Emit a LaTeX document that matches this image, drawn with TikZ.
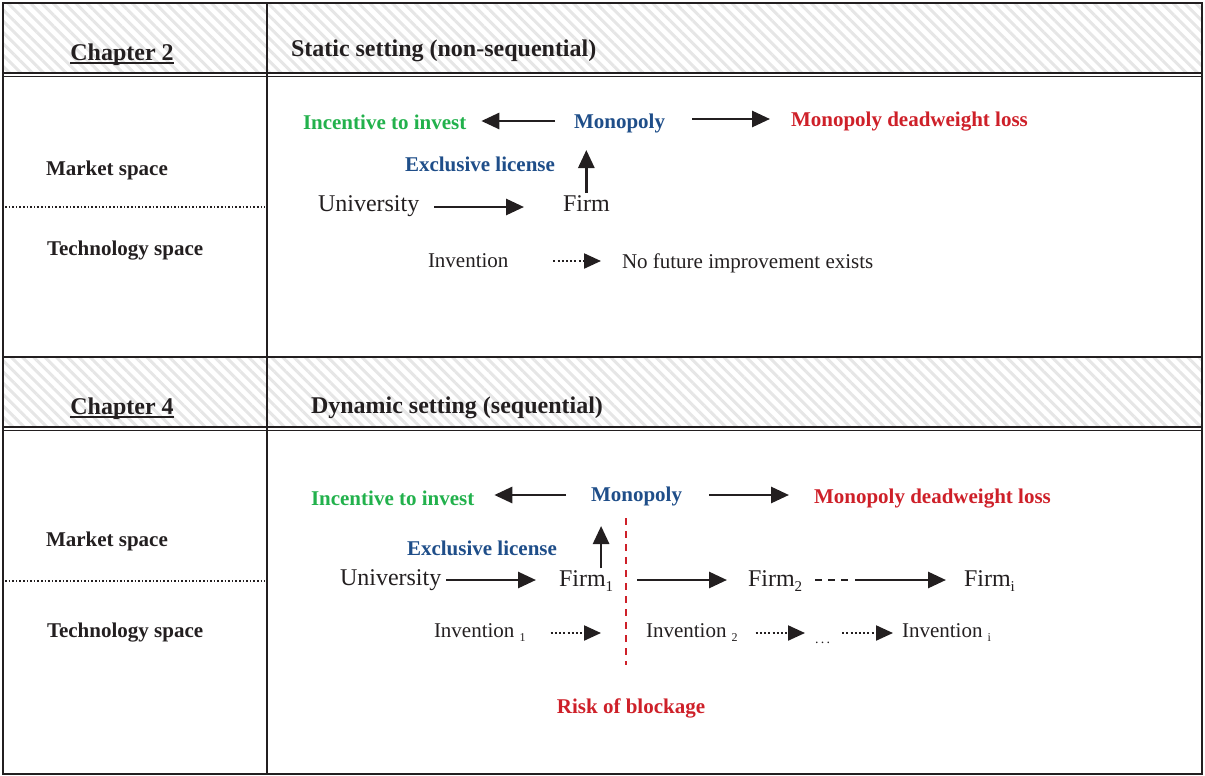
\documentclass[tikz,border=0pt]{standalone}
\usepackage{fontspec}
\setmainfont{Liberation Serif}
\usetikzlibrary{arrows.meta,patterns.meta}
\definecolor{ink}{HTML}{231F20}
\definecolor{cgreen}{HTML}{22B14C}
\definecolor{cblue}{HTML}{1F4E89}
\definecolor{cred}{HTML}{CE2029}
\definecolor{hatchc}{HTML}{E6E6E6}
\newcommand\fsub[1]{\raisebox{-5pt}{\fontsize{15}{15}\selectfont #1}}
\newcommand\isub[1]{\raisebox{-4pt}{\fontsize{12}{12}\selectfont #1}}
\begin{document}
\begin{tikzpicture}[x=1pt,y=-1pt,
 every node/.style={inner sep=0pt, outer sep=0pt, text=ink},
 big/.style={font=\fontsize{24}{28}\selectfont, text height=16pt, text depth=0pt},
 bigb/.style={font=\fontsize{24}{28}\selectfont\bfseries, text height=16pt, text depth=0pt},
 lab/.style={font=\fontsize{21}{25}\selectfont, text height=14pt, text depth=0pt},
 labb/.style={font=\fontsize{21}{25}\selectfont\bfseries, text height=14pt, text depth=0pt},
 frame/.style={draw=ink, line width=2pt},
 thin/.style={draw=ink, line width=1.3pt},
 hatch/.style={pattern={Lines[angle=-45,distance=8pt,line width=3pt]}, pattern color=hatchc},
 sepline/.style={draw=ink, line width=1.2pt, dash pattern=on 1.6pt off 2pt},
 arr/.style={draw=ink, line width=2.8pt, -{Triangle[length=18pt,width=16pt]}},
 darr/.style={draw=ink, line width=2.2pt, dash pattern=on 2pt off 2.2pt, -{Triangle[length=17pt,width=15pt]}},
 dashline/.style={draw=ink, line width=1.8pt, dash pattern=on 7pt off 6pt},
 riskline/.style={draw=cred, line width=2pt, dash pattern=on 7pt off 6pt},
 uline/.style={draw=ink, line width=1.8pt}
]
\useasboundingbox (0,0) rectangle (1205,776);
% header hatching
\fill[hatch] (3,3) rectangle (1202,73);
\fill[hatch] (3,357) rectangle (1202,427);
% table lines
\draw[frame] (3,3) rectangle (1202,774);
\draw[frame] (267,3) -- (267,774);
\draw[frame] (3,357) -- (1202,357);
\draw[thin] (3,73) -- (1202,73);
\draw[thin] (3,76.5) -- (1202,76.5);
\draw[thin] (3,427) -- (1202,427);
\draw[thin] (3,430.5) -- (1202,430.5);
\draw[sepline] (5,207) -- (265,207);
\draw[sepline] (5,581) -- (265,581);

% ---------- Row 1 ----------
\node[bigb] (ch2) at (122,52) {Chapter 2};
\draw[uline] ([yshift=-3pt]ch2.south west) -- ([yshift=-3pt]ch2.south east);
\node[bigb, anchor=west] (h1) at (291,49) {Static setting (non-sequential)};
\node[labb, anchor=west] (ms1) at (46,168) {Market space};
\node[labb, anchor=west] (ts1) at (47,248) {Technology space};
\node[labb, text=cgreen, anchor=west] (inc1) at (303,122) {Incentive to invest};
\node[labb, text=cblue, anchor=west] (mono1) at (574,121) {Monopoly};
\node[labb, text=cred, anchor=west] (mdl1) at (791,119) {Monopoly deadweight loss};
\node[labb, text=cblue] (ex1) at (480,164) {Exclusive license};
\node[big, anchor=west] (uni1) at (318,203) {University};
\node[big, anchor=west] (firm1) at (563,203) {Firm};
\node[lab, anchor=west] (inv1) at (428,260) {Invention};
\node[lab, anchor=west] (nofut) at (622,261) {No future improvement exists};

\draw[arr, shorten <=19pt, shorten >=15pt] (mono1.west) -- (mono1.west -| inc1.east);
\draw[arr, shorten <=27pt, shorten >=21pt] ([yshift=2pt]mono1.east) -- ([yshift=2pt]mono1.east -| mdl1.west);
\draw[arr, shorten <=2pt, shorten >=22pt] (firm1.north) -- (firm1.north |- mono1.south);
\draw[arr, shorten <=15pt, shorten >=39pt] ([yshift=-4pt]uni1.east) -- ([yshift=-4pt]uni1.east -| firm1.west);
\draw[darr, shorten <=45pt, shorten >=21pt] ([yshift=-1pt]inv1.east) -- ([yshift=-1pt]inv1.east -| nofut.west);

% ---------- Row 2 ----------
\node[bigb] (ch4) at (122,406) {Chapter 4};
\draw[uline] ([yshift=-3pt]ch4.south west) -- ([yshift=-3pt]ch4.south east);
\node[bigb, anchor=west] (h2) at (311,405) {Dynamic setting (sequential)};
\node[labb, anchor=west] (ms2) at (46,539) {Market space};
\node[labb, anchor=west] (ts2) at (47,630) {Technology space};
\node[labb, text=cgreen, anchor=west] (inc2) at (311,498) {Incentive to invest};
\node[labb, text=cblue, anchor=west] (mono2) at (591,494) {Monopoly};
\node[labb, text=cred, anchor=west] (mdl2) at (814,496) {Monopoly deadweight loss};
\node[labb, text=cblue] (ex2) at (482,548) {Exclusive license};
\node[big, anchor=west] (uni2) at (340,577) {University};
\node[big, anchor=west] (f1) at (559,578) {Firm\fsub{1}};
\node[big, anchor=west] (f2) at (748,578) {Firm\fsub{2}};
\node[big, anchor=west] (fi) at (964,578) {Firm\fsub{i}};
\node[lab, anchor=west] (i1) at (434,630) {Invention \isub{1}};
\node[lab, anchor=west] (i2) at (646,630) {Invention \isub{2}};
\node[lab, anchor=west] (dots) at (815,630) {\raisebox{-6pt}{\fontsize{14}{14}\selectfont .\,.\,.}};
\node[lab, anchor=west] (ii) at (902,630) {Invention \isub{i}};
\node[labb, text=cred] (risk) at (631,706) {Risk of blockage};

\draw[arr, shorten <=25pt, shorten >=20pt] ([yshift=-1pt]mono2.west) -- ([yshift=-1pt]mono2.west -| inc2.east);
\draw[arr, shorten <=27pt, shorten >=25pt] ([yshift=-1pt]mono2.east) -- ([yshift=-1pt]mono2.east -| mdl2.west);
\draw[arr, shorten <=2pt, shorten >=25pt] ([xshift=15pt]f1.north) -- ([xshift=15pt]f1.north |- mono2.south);
\draw[arr, shorten <=5pt, shorten >=23pt] ([yshift=-3pt]uni2.east) -- ([yshift=-3pt]uni2.east -| f1.west);
\draw[arr, shorten <=24pt, shorten >=21pt] ([yshift=-2pt]f1.east) -- ([yshift=-2pt]f1.east -| f2.west);
\draw[dashline, shorten <=13pt, shorten >=112pt] ([yshift=-2pt]f2.east) -- ([yshift=-2pt]f2.east -| fi.west);
\draw[arr, shorten <=53pt, shorten >=18pt] ([yshift=-2pt]f2.east) -- ([yshift=-2pt]f2.east -| fi.west);
\draw[darr, shorten <=25pt, shorten >=45pt] ([yshift=-3pt]i1.east) -- ([yshift=-3pt]i1.east -| i2.west);
\draw[darr, shorten <=18pt, shorten >=10pt] ([yshift=-3pt]i2.east) -- ([yshift=-3pt]i2.east -| dots.west);
\draw[darr, shorten <=12pt, shorten >=9pt] ([yshift=-3pt]dots.east) -- ([yshift=-3pt]dots.east -| ii.west);
\draw[riskline] (626,518) -- (626,665);
\end{tikzpicture}
\end{document}
